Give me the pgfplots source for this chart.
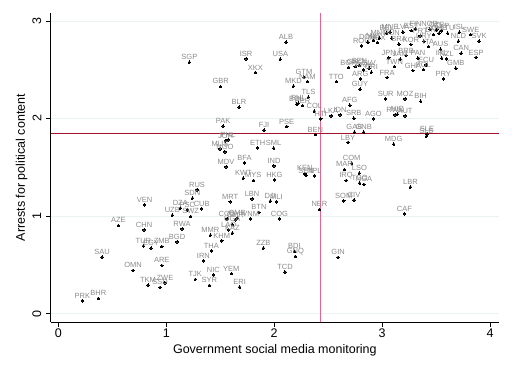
\documentclass[border=0pt]{standalone}
\usepackage{pgfplots}
\pgfplotsset{compat=1.18}
\usepackage{fontspec}
\setmainfont{Liberation Sans}
\definecolor{vline}{HTML}{E5668A}
\definecolor{hline}{HTML}{A5102D}
\definecolor{lab}{HTML}{8A8A8A}
\definecolor{gridc}{HTML}{EAF2F3}
\begin{document}
\begin{tikzpicture}
\useasboundingbox (-50.7pt,-51pt) rectangle (461.3pt,322pt);
\begin{axis}[
 scale only axis, width=448.3pt, height=308.7pt,
 xmin=-0.071, xmax=4.083, ymin=-0.085, ymax=3.078,
 axis lines*=left,
 axis line style={line width=0.7pt},
 xtick={0,1,2,3,4}, ytick={0,1,2,3},
 tick align=outside, major tick length=4.5pt,
 tick style={line width=0.7pt, black},
 ymajorgrids, grid style={gridc, line width=0.8pt},
 /pgf/number format/assume math mode=true,
 tick label style={font=\fontsize{12.5}{14}\selectfont},
 xticklabel style={anchor=center, yshift=-7pt},
 yticklabel style={rotate=90, anchor=center, yshift=9.3pt},
 label style={font=\fontsize{12.5}{14}\selectfont},
 xlabel={Government social media monitoring},
 ylabel={Arrests for political content},
 xlabel style={at={(axis description cs:0.5,-0.093)}, anchor=center},
 ylabel style={at={(axis description cs:-0.0647,0.5)}, anchor=center},
 clip=false,
]
\addplot[vline, line width=0.8pt] coordinates {(2.425,-0.085) (2.425,3.078)};
\addplot[hline, line width=0.8pt] coordinates {(-0.071,1.85) (4.083,1.85)};
\addplot[only marks, mark=*, mark size=1.3pt, mark options={fill=black, draw=black, line width=0pt},
 nodes near coords, point meta=explicit symbolic,
 nodes near coords style={font=\fontsize{7.5}{9}\selectfont, text=lab, anchor=south, inner sep=0pt, yshift=2.5pt, text depth=0pt}]
 table[meta=label] {
x y label
1.214 2.577 SGP
1.739 2.611 ISR
2.057 2.608 USA
2.110 2.782 ALB
1.825 2.471 XKX
2.276 2.423 GTM
2.307 2.379 NAM
2.178 2.331 MKD
1.504 2.328 GBR
2.317 2.218 TLS
2.208 2.147 BOL
2.224 2.157 PHL
2.264 2.133 PER
2.372 2.075 COL
2.431 1.997 HTI
1.674 2.116 BLR
2.527 2.027 LKA
2.610 2.038 IDN
2.700 2.137 AFG
2.737 2.003 SRB
2.919 1.997 AGO
2.576 2.379 TTO
2.795 2.300 GUY
2.798 2.406 ARG
3.046 2.420 FRA
3.033 2.201 SUR
3.212 2.201 MOZ
3.357 2.177 BIH
3.120 2.038 RWX
3.141 2.044 NIC
3.212 2.027 AUT
1.526 1.922 PAK
1.906 1.881 FJI
2.116 1.918 PSE
2.381 1.836 BEN
2.743 1.860 GAB
2.829 1.860 GNB
3.416 1.840 SLE
3.410 1.819 SLB
2.684 1.754 LBY
3.107 1.737 MDG
1.551 1.771 JOR
1.572 1.782 PHL
1.498 1.689 MUS
1.544 1.659 NGO
1.847 1.700 ETH
1.995 1.696 SML
1.554 1.505 MDV
1.724 1.546 BFA
1.998 1.515 IND
1.714 1.389 KWT
1.807 1.365 MYS
2.002 1.372 HKG
2.283 1.437 KEN
2.295 1.416 SEN
2.372 1.413 NPL
2.718 1.543 COM
2.650 1.478 MAR
2.789 1.440 LSO
2.666 1.365 IRQ
2.792 1.338 TGO
2.832 1.324 NGA
3.262 1.297 LBR
2.644 1.157 SOM
2.740 1.164 CIV
3.206 1.024 CAF
2.419 1.068 NER
1.285 1.270 RUS
1.242 1.184 SDN
0.800 1.116 VEN
1.130 1.082 DZA
1.195 1.065 PSC
1.328 1.075 CUB
1.056 1.010 UZB
1.226 0.997 SWZ
1.591 1.147 MRT
1.795 1.177 LBN
1.964 1.154 DJI
2.020 1.147 MLI
1.859 1.038 BTN
2.048 0.973 COG
1.563 0.973 COD
1.640 0.962 CMR
1.656 0.980 GMB
1.782 0.973 VNM
1.612 0.915 UGA
1.578 0.860 LAO
1.612 0.826 KAZ
0.556 0.904 AZE
0.794 0.860 CHN
1.146 0.870 RWA
1.409 0.805 MMR
1.514 0.747 KHM
1.100 0.737 BGD
0.788 0.693 TUR
0.859 0.672 EGY
0.958 0.689 ZMB
1.418 0.645 THA
1.900 0.672 ZZB
2.187 0.638 BDI
2.196 0.587 GNQ
2.592 0.577 GIN
0.405 0.580 SAU
1.344 0.543 IRN
0.958 0.495 ARE
0.692 0.444 OMN
2.100 0.427 TCD
1.436 0.399 NIC
1.603 0.410 YEM
1.269 0.352 TJK
1.399 0.290 SYR
1.680 0.273 ERI
0.831 0.294 TKM
0.988 0.317 ZWE
0.942 0.270 SSD
0.222 0.133 PRK
0.371 0.157 BHR
2.808 2.744 ROU
2.867 2.782 DOM
2.919 2.799 MLT
2.956 2.778 MEX
2.975 2.823 MNG
3.042 2.874 BEL
3.073 2.884 MNE
3.089 2.823 HUN
3.156 2.761 BRA
3.193 2.884 LVA
3.267 2.758 KOR
3.270 2.901 EST
3.310 2.918 FIN
3.353 2.846 PRT
3.387 2.792 URY
3.430 2.737 ITA
3.441 2.915 NOR
3.475 2.860 DNK
3.506 2.908 CZE
3.529 2.874 CHE
3.552 2.898 CYP
3.607 2.874 LTU
3.716 2.884 ISL
3.821 2.860 SWE
3.898 2.792 SVK
3.707 2.792 NLD
3.542 2.710 AUS
3.733 2.669 CAN
3.870 2.625 ESP
3.682 2.515 GMB
3.567 2.406 PRY
3.552 2.618 IRL
3.598 2.611 NZL
3.407 2.549 ECU
3.382 2.502 POL
3.286 2.491 GHA
3.332 2.618 PAN
3.222 2.645 BRB
3.167 2.608 JAM
3.061 2.621 JPN
3.114 2.532 TWN
2.689 2.522 BGR
2.751 2.532 GRC
2.788 2.543 SEN
2.828 2.498 ARM
2.880 2.515 SLV
2.901 2.474 CRI
};
\end{axis}
\end{tikzpicture}
\end{document}
